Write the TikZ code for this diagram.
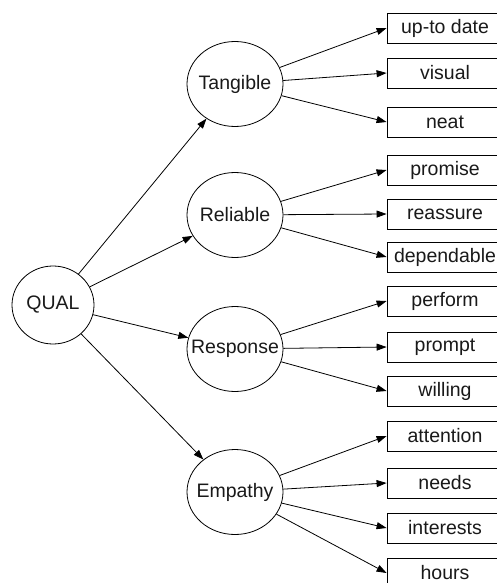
\documentclass[tikz,border=0pt]{standalone}
\usepackage{fontspec}
\setmainfont{Liberation Sans}
\usetikzlibrary{shapes.geometric,arrows.meta}
\begin{document}
\begin{tikzpicture}[x=1pt,y=-1pt,
  every node/.style={font=\fontsize{19.5}{21}\selectfont, text=black!90},
  lat/.style={ellipse,draw,line width=0.8pt,inner sep=0pt,minimum width=96pt,minimum height=85pt},
  item/.style={rectangle,draw,line width=0.8pt,inner sep=0pt,minimum width=116pt,minimum height=30pt},
  arr/.style={line width=0.8pt,-{Triangle[length=10pt,width=7pt]}}]
\useasboundingbox (0,0) rectangle (497,583);
\clip (0,0) rectangle (497,583);
\node[lat,minimum width=82pt,minimum height=78pt] (q) at (53,305) {\makebox[0pt]{QUAL}};
\node[lat] (t) at (235,84) {\makebox[0pt]{Tangible}};
\node[lat] (r) at (235,215) {\makebox[0pt]{Reliable}};
\node[lat] (s) at (235,349) {\makebox[0pt]{Response}};
\node[lat] (e) at (235,492) {\makebox[0pt]{Empathy}};
\node[item] (b1) at (445,28) {up-to date};
\node[item] (b2) at (445,73) {visual};
\node[item] (b3) at (445,122) {neat};
\node[item] (b4) at (445,170) {promise};
\node[item] (b5) at (445,214) {reassure};
\node[item] (b6) at (445,257) {dependable};
\node[item] (b7) at (445,301) {perform};
\node[item] (b8) at (445,347) {prompt};
\node[item] (b9) at (445,391) {willing};
\node[item] (b10) at (445,436) {attention};
\node[item] (b11) at (445,483) {needs};
\node[item] (b12) at (445,528) {interests};
\node[item] (b13) at (445,573) {hours};
\foreach \c in {t,r,s,e} \draw[arr] (q) -- (\c);
\foreach \b in {b1,b2,b3} \draw[arr] (t) -- (\b.west);
\foreach \b in {b4,b5,b6} \draw[arr] (r) -- (\b.west);
\foreach \b in {b7,b8,b9} \draw[arr] (s) -- (\b.west);
\foreach \b in {b10,b11,b12,b13} \draw[arr] (e) -- (\b.west);
\end{tikzpicture}
\end{document}
